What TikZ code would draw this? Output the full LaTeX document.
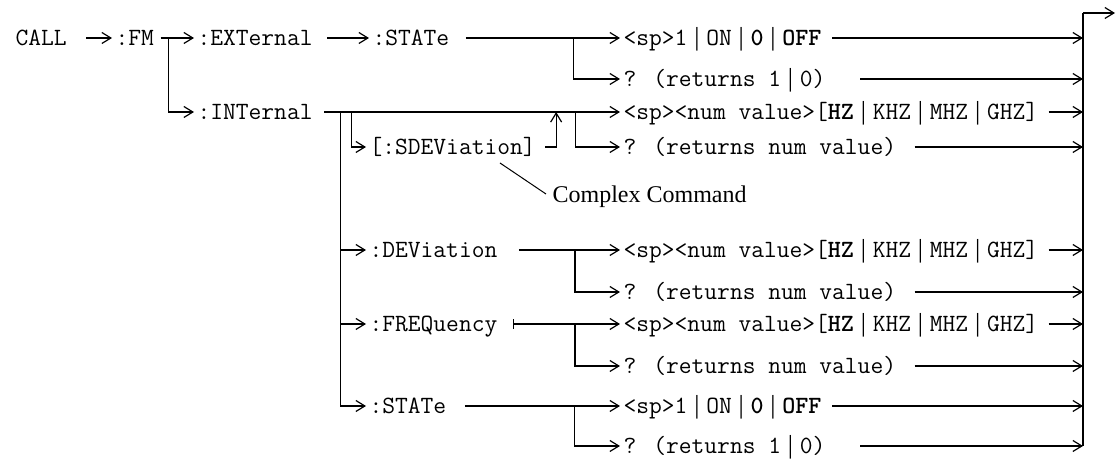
\documentclass[tikz,border=0pt]{standalone}
\usepackage{fontspec}
\setmainfont{Liberation Serif}
\usetikzlibrary{arrows.meta}
\usetikzlibrary{calc}
\newcommand{\vb}{\hspace{3.4pt}{\rmfamily\fontsize{13}{13}\selectfont|}\hspace{3.4pt}}
\newcommand{\cmdfont}{\ttfamily\fontsize{12.4}{14}\selectfont}
\def\numset{<sp><num value>[\textbf{HZ}\vb KHZ\vb MHZ\vb GHZ]}
\def\numq{? (returns num value)}
\def\onoff{<sp>1\vb ON\vb\textbf{0}\vb\textbf{OFF}}

\begin{document}
\begin{tikzpicture}[x=0.5pt,y=-0.5pt,line width=0.6pt,
  >={Straight Barb[length=4.5pt,width=5.5pt]},
  cmd/.style={anchor=west,inner sep=0pt,font=\cmdfont,text height=8.3pt,text depth=0.6pt},
  into/.style={->,shorten >=1.5pt}]

\useasboundingbox (0,0) rectangle (1116,464);

% command words
\node[cmd] (call) at (15,38) {CALL};
\node[cmd] (fm) at (115,38) {:FM};
\node[cmd] (ext) at (197,38) {:EXTernal};
\node[cmd] (int) at (197,112) {:INTernal};
\node[cmd] (extstate) at (372,38) {:STATe};
\node[cmd] (sdev) at (369,147) {[:SDEViation]};
\node[cmd] (dev) at (369,250) {:DEViation};
\node[cmd] (freq) at (369,324) {:FREQuency};
\node[cmd] (intstate) at (369,406) {:STATe};

% parameters
\node[cmd] (extset) at (623,38) {\onoff};
\node[cmd] (extq) at (623,79) {? (returns 1\vb 0)};
\node[cmd] (sdevset) at (623,112) {\numset};
\node[cmd] (sdevq) at (623,147) {\numq};
\node[cmd] (devset) at (623,250) {\numset};
\node[cmd] (devq) at (623,292) {\numq};
\node[cmd] (freqset) at (623,324) {\numset};
\node[cmd] (freqq) at (623,366) {\numq};
\node[cmd] (intset) at (623,406) {\onoff};
\node[cmd] (intq) at (623,446) {? (returns 1\vb 0)};

\node[anchor=west,inner sep=0pt,font=\fontsize{12}{14}\selectfont] (cplx) at (552,197) {Complex Command};

% CALL:FM
\draw[into] ([xshift=9.5pt]call.east) -- (fm.west);
\draw[into] ([xshift=3pt]fm.east) -- (ext.west);
\coordinate (fmsplit) at ($(fm.east)+(14,0)$);
\draw[into] (fmsplit) |- (int.west);

% external branch
\draw[into] ([xshift=7pt]ext.east) -- (extstate.west);
\draw[into] ([xshift=8pt]extstate.east) -- (extset.west);
\coordinate (extsplit) at ($(extstate.east)+(124,0)$);
\draw[into] (extsplit) |- (extq.west);

% internal branch
\draw[into] ([xshift=5.5pt]int.east) -- (sdevset.west);
\coordinate (trunk) at ($(int.east)+(27,0)$);
\draw[into] (trunk) |- (intstate.west);
\draw[into] (trunk |- dev.west) -- (dev.west);
\draw[into] (trunk |- freq.west) -- (freq.west);
\coordinate (sdevsplit) at ($(int.east)+(38,0)$);
\draw[into] (sdevsplit) |- (sdev.west);
\coordinate (rejoin) at ($(int.east)+(243,0)$);
\draw[->] ([xshift=4.5pt]sdev.east) -| (rejoin);
\coordinate (sdevqsplit) at ($(int.east)+(262,0)$);
\draw[into] (sdevqsplit) |- (sdevq.west);

\draw[into] ([xshift=10.5pt]dev.east) -- (devset.west);
\draw[into] ($(dev.east)+(77,0)$) |- (devq.west);
\draw[into,{Bar[width=5pt]}->] ([xshift=7.5pt]freq.east) -- (freqset.west);
\draw[into] ($(freq.east)+(77,0)$) |- (freqq.west);
\draw[into] ([xshift=9pt]intstate.east) -- (intset.west);
\draw[into] ($(intstate.east)+(128,0)$) |- (intq.west);

% note
\coordinate (cplxfoot) at (500,163);
\draw[line width=0.5pt] (cplxfoot) -- ([xshift=-3pt,yshift=1.5pt]cplx.west);

% collector on the right
\coordinate (bartop) at (1083,13);
\coordinate (barbot) at (1083,446);
\coordinate (exit) at (1115,13);
\draw (barbot) -- (bartop);
\draw[->] (bartop) -- (exit);
\foreach \n/\gap in {extset/5, extq/17, sdevset/5, sdevq/9, devset/5,
                      devq/9, freqset/5, freqq/9, intset/5, intq/17}
  \draw[->] ([xshift=\gap pt]\n.east) -- (\n.east -| bartop);

\end{tikzpicture}
\end{document}
